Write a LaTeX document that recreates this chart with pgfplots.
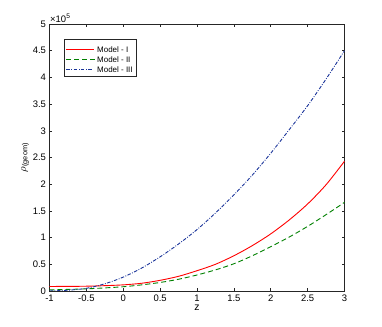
\documentclass[border=0pt]{standalone}
\usepackage{fontspec}
\setmainfont{Liberation Sans}
\usepackage{pgfplots}
\pgfplotsset{compat=1.18}

\definecolor{mred}{rgb}{1,0,0}
\definecolor{mgreen}{rgb}{0,0.5,0}
\definecolor{mblue}{rgb}{0.1,0.2,0.6}
\definecolor{axgray}{rgb}{0.15,0.15,0.15}

% legend samples built from coloured rules
\newcommand\seg[1]{\rule[-0.45bp]{#1}{0.9bp}}
\newcommand\legimg[1]{\node[inner sep=0pt, anchor=west] at (0bp,0bp) {#1};}

\begin{document}
\begin{tikzpicture}
    \begin{axis}[
            name=ax,
            scale only axis,
            width=295bp,
            height=267bp,
            xmin=-1, xmax=3,
            ymin=0, ymax=500000,
            xtick={-1,-0.5,0,0.5,1,1.5,2,2.5,3},
            ytick={0,50000,100000,150000,200000,250000,300000,350000,400000,450000,500000},
            scaled y ticks=base 10:-5,
            ytick scale label code/.code={×10\textsuperscript{5}},
            every y tick scale label/.style={at={(rel axis cs:0,1)}, anchor=south west, inner sep=0.5bp, yshift=0.5bp, font=\fontsize{9.5}{11}\selectfont},
            tick align=inside,
            major tick length=3bp,
            axis line style={axgray, line width=0.6bp},
            tick style={axgray, line width=0.6bp},
            ticklabel style={font=\fontsize{9.5}{11}\selectfont},
            /pgf/number format/assume math mode=true,
            xlabel={z},
            ylabel={$\rho$\textsubscript{(geom)}},
            label style={font=\fontsize{10.5}{12}\selectfont},
            xlabel style={yshift=3bp},
            ylabel style={yshift=-3bp},
            legend cell align=left,
            legend style={
                    at={(rel axis cs:0.049,0.942)},
                    anchor=north west,
                    draw=axgray,
                    line width=0.6bp,
                    font=\fontsize{8}{9}\selectfont,
                    row sep=-1.5bp,
                    inner xsep=2bp,
                    inner ysep=1bp,
                },
        ]
        % dummy first row (nearly zero height)
        \addlegendimage{legend image code/.code={\legimg{\textcolor{mred}{\rule{0pt}{0pt}}}}}
        \addlegendentry{\rule{0pt}{0pt}}
        \addlegendimage{legend image code/.code={\legimg{\textcolor{mred}{\seg{28bp}}}}}
        \addlegendentry{Model - I}
        \addlegendimage{legend image code/.code={\legimg{\textcolor{mgreen}{\seg{5bp}\hspace{3bp}\seg{5bp}\hspace{3bp}\seg{5bp}\hspace{3bp}\seg{5bp}}}}}
        \addlegendentry{Model - II}
        \addlegendimage{legend image code/.code={\legimg{\textcolor{mblue}{\seg{3.5bp}\hspace{1.5bp}\seg{0.8bp}\hspace{1.5bp}\seg{3.5bp}\hspace{1.5bp}\seg{0.8bp}\hspace{1.5bp}\seg{3.5bp}\hspace{1.5bp}\seg{0.8bp}\hspace{1.5bp}\seg{3.5bp}}}}}
        \addlegendentry{Model - III}
        % Model - I
        \addplot[forget plot, draw=mred, line width=0.9bp, smooth] coordinates {
                (-1,8500) (-0.75,8600) (-0.5,9000) (-0.25,10000) (0,11500) (0.25,14500)
                (0.5,20000) (0.75,27500) (1,38000) (1.25,50000) (1.5,66000) (1.75,85000)
                (2,107000) (2.25,133000) (2.5,163000) (2.75,199000) (3,243000)
            };
        % Model - II
        \addplot[forget plot, draw=mgreen, line width=0.9bp, dash pattern=on 5bp off 3bp, smooth] coordinates {
                (-1,2000) (-0.75,3000) (-0.5,4000) (-0.25,5800) (0,8000) (0.25,11500)
                (0.5,16000) (0.75,22000) (1,30000) (1.25,39500) (1.5,51000) (1.75,66000)
                (2,83000) (2.25,101000) (2.5,121000) (2.75,143000) (3,166000)
            };
        % Model - III
        \addplot[forget plot, draw=mblue, line width=0.9bp, dash pattern=on 3.5bp off 1.5bp on 0.8bp off 1.5bp, smooth] coordinates {
                (-1,0) (-0.75,1500) (-0.5,5000) (-0.25,13500) (0,26000) (0.25,43000)
                (0.5,64000) (0.75,88000) (1,115000) (1.25,146000) (1.5,180000) (1.75,217000)
                (2,258000) (2.25,302000) (2.5,347000) (2.75,397000) (3,450000)
            };
    \end{axis}
    \pgfresetboundingbox
    \path ([xshift=-49.5bp,yshift=-36bp]ax.south west) rectangle ([xshift=37.5bp,yshift=24bp]ax.north east);
\end{tikzpicture}
\end{document}
